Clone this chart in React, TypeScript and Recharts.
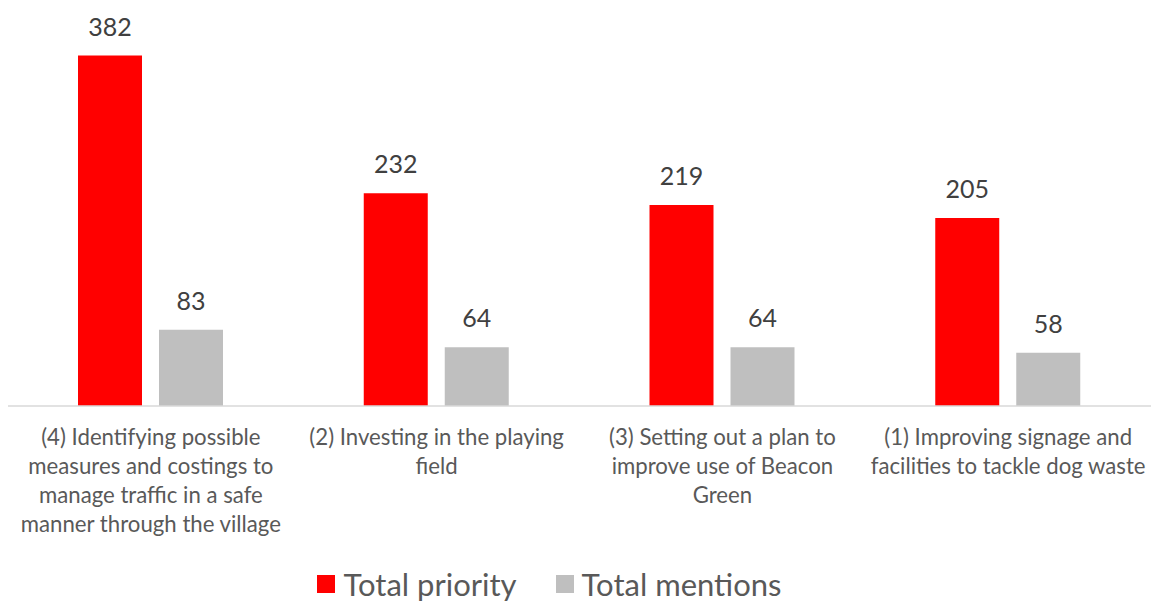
import { BarChart, Bar, XAxis, YAxis, LabelList, Legend } from "recharts"

// category labels, line breaks as in the original
const categories = [
  "(4) Identifying possible\nmeasures and costings to\nmanage traffic in a safe\nmanner through the village",
  "(2) Investing in the playing\nfield",
  "(3) Setting out a plan to\nimprove use of Beacon\nGreen",
  "(1) Improving signage and\nfacilities to tackle dog waste",
]
const totalPriority = [382, 232, 219, 205]
const totalMentions = [83, 64, 64, 58]

const data = categories.map((name, i) => ({
  name,
  priority: totalPriority[i],
  mentions: totalMentions[i],
}))

const FONT = "Lato, 'Open Sans', sans-serif"

function CategoryTick(props: any) {
  const { x, y, payload } = props
  const lines = String(payload.value).split("\n")
  return (
    <g transform={`translate(${x},${y})`}>
      {lines.map((line, i) => (
        <text
          key={i}
          x={0}
          y={31 + i * 29}
          textAnchor="middle"
          fontSize={22.2}
          fontFamily={FONT}
          fill="#595959"
        >
          {line}
        </text>
      ))}
    </g>
  )
}

function ChartLegend() {
  const items = [
    { label: "Total priority", color: "#ff0000" },
    { label: "Total mentions", color: "#bfbfbf" },
  ]
  return (
    <div
      style={{
        height: 50,
        display: "flex",
        justifyContent: "center",
        alignItems: "flex-end",
        gap: 39,
        paddingRight: 60,
        fontFamily: FONT,
      }}
    >
      {items.map((it) => (
        <div key={it.label} style={{ display: "flex", alignItems: "center", height: 36 }}>
          <span style={{ width: 18, height: 18, background: it.color, marginRight: 8, display: "inline-block" }} />
          <span style={{ fontSize: 31, color: "#595959", lineHeight: "36px" }}>{it.label}</span>
        </div>
      ))}
    </div>
  )
}

export default function App() {
  return (
    <div style={{ width: 1151, height: 602, overflow: "hidden" }}>
      <style>{"body { margin: 0; }"}</style>
      <BarChart
        width={1151}
        height={602}
        data={data}
        margin={{ top: 39, right: 0, left: 8, bottom: 0 }}
        barSize={64}
        barGap={17}
      >
        <XAxis
          dataKey="name"
          tickLine={false}
          axisLine={{ stroke: "#d9d9d9", strokeWidth: 1.5 }}
          tick={<CategoryTick />}
          interval={0}
          height={146}
        />
        <YAxis hide domain={[0, 400]} />
        <Legend verticalAlign="bottom" height={50} content={<ChartLegend />} />
        <Bar dataKey="priority" name="Total priority" fill="#ff0000" isAnimationActive={false}>
          <LabelList dataKey="priority" position="top" offset={20} fill="#404040" fontSize={25} fontFamily={FONT} />
        </Bar>
        <Bar dataKey="mentions" name="Total mentions" fill="#bfbfbf" isAnimationActive={false}>
          <LabelList dataKey="mentions" position="top" offset={20} fill="#404040" fontSize={25} fontFamily={FONT} />
        </Bar>
      </BarChart>
    </div>
  )
}
